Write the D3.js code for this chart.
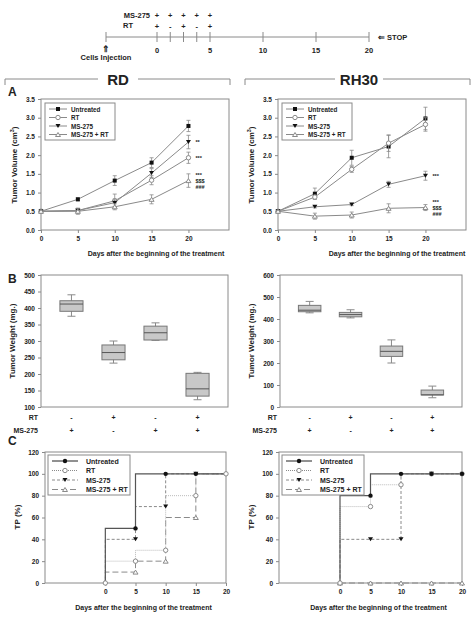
<!DOCTYPE html><html><head><meta charset="utf-8"><script src="https://cdn.jsdelivr.net/npm/d3@7"></script>
<style>body{margin:0;background:#fff}text{font-family:Arial,"Liberation Sans",sans-serif;font-weight:bold}</style></head><body>
<svg id="s" width="474" height="620"></svg>
<script>
const days=[0,5,10,15,20];
const groups=["Untreated","RT","MS-275","MS-275 + RT"];
// Panel A: tumor volume means & errors
const rdVol=[[0.5,0.82,1.32,1.8,2.78],[0.5,0.52,0.78,1.33,1.93],[0.5,0.52,0.73,1.52,2.35],[0.5,0.5,0.62,0.82,1.32]];
const rdErr=[[0.02,0.04,0.13,0.13,0.15],[0.05,0.05,0.18,0.12,0.15],[0.03,0.06,0.1,0.12,0.18],[0.03,0.08,0.08,0.12,0.18]];
const rhVol=[[0.5,0.97,1.93,2.23,2.98],[0.5,0.88,1.62,2.32,2.82],[0.5,0.62,0.68,1.22,1.45],[0.5,0.37,0.4,0.58,0.6]];
const rhErr=[[0.02,0.15,0.2,0.3,0.3],[0.02,0.05,0.08,0.22,0.18],[0.02,0.03,0.03,0.08,0.12],[0.02,0.08,0.08,0.12,0.08]];
const rdSig=[["**",2.35],["***",1.93],["***\n$$$\n###",1.32]];
const rhSig=[["***",1.45],["***\n$$$\n###",0.6]];
// Panel B: box stats [min,q1,median,q3,max]
const rdBox=[[375,390,412,422,440],[233,243,265,288,300],[302,303,325,345,355],[122,133,155,202,205]];
const rhBox=[[428,433,440,462,480],[405,410,420,430,442],[200,230,253,277,305],[42,55,55,77,95]];
const rtRow=["-","+","-","+"], msRow=["+","-","+","+"];
// Panel C: TP (%)
const rdTP=[[0,50,100,100,100],[0,20,30,80,100],[0,40,70,100,100],[0,10,20,60,100]];
const rhTP=[[0,80,100,100,100],[0,70,90,100,100],[0,40,40,100,100],[0,0,0,0,0]];
const timelineTicks=[0,5,10,15,20];
const msPlan=["+","+","+","+","+"], rtPlan=["+","-","+","-","+"], planDays=[0,1.25,2.5,3.75,5];

const svg=d3.select("#s");
const G="#8a8a8a";
function txt(g,x,y,t,o={}){return g.append("text").attr("x",x).attr("y",y).text(t).attr("font-size",o.fs||7).attr("text-anchor",o.a||"start").attr("fill",o.c||"#222");}
// Timeline
const tx=d3.scaleLinear([0,20],[157,369]);
svg.append("line").attr("x1",106).attr("x2",369).attr("y1",37).attr("y2",37).attr("stroke",G);
[-5,...timelineTicks,...planDays.slice(1,4)].forEach(d=>svg.append("line").attr("x1",d<0?106:tx(d)).attr("x2",d<0?106:tx(d)).attr("y1",32).attr("y2",42).attr("stroke",G));
timelineTicks.forEach(d=>txt(svg,tx(d),53,d,{a:"middle",fs:7.5}));
txt(svg,150,18,"MS-275",{a:"end",fs:7.5});txt(svg,123,28,"RT",{fs:7.5});
planDays.forEach((d,i)=>{txt(svg,tx(d),18,msPlan[i],{a:"middle",fs:7.5});txt(svg,tx(d),29,rtPlan[i],{a:"middle",fs:7.5});});
txt(svg,106,60,"Cells Injection",{a:"middle",fs:7.5});txt(svg,106,52,"⇑",{a:"middle",fs:9});
txt(svg,378,40,"⇐ STOP",{fs:7.5});
// Section headers
[[5,230,118,"RD"],[245,470,355,"RH30"]].forEach(([a,b,c,t])=>{
 svg.append("path").attr("d",`M${a},85V79H${c-20}M${c+ (t=="RD"?20:28)},79H${b}V85`).attr("fill","none").attr("stroke",G);
 txt(svg,c+(t=="RD"?0:4),85,t,{a:"middle",fs:15});});
txt(svg,8,96,"A",{fs:12});txt(svg,8,283,"B",{fs:12});txt(svg,8,445,"C",{fs:12});
// Panel A
function panelA(x0,vol,err,sig){
 const x=d3.scaleLinear([0,25.5],[x0+41,x0+229]), y=d3.scaleLinear([0,3.5],[230,99]);
 const g=svg.append("g");
 g.append("rect").attr("x",x(0)).attr("y",99).attr("width",x(25.5)-x(0)).attr("height",131).attr("fill","none").attr("stroke",G);
 g.append("g").attr("transform","translate(0,230)").call(d3.axisBottom(x).tickValues(days).tickSize(3)).call(a=>{a.select(".domain").remove();a.selectAll("line").attr("stroke",G);a.selectAll("text").attr("font-size",6.5).attr("fill","#222");});
 g.append("g").attr("transform",`translate(${x(0)},0)`).call(d3.axisLeft(y).ticks(7).tickFormat(d3.format(".1f")).tickSize(3)).call(a=>{a.select(".domain").remove();a.selectAll("line").attr("stroke",G);a.selectAll("text").attr("font-size",6.5).attr("fill","#222");});
 txt(g,x0+(x0?160:156),256,"Days after the beginning of the treatment",{a:"middle",fs:7});
 const yl=g.append("text").attr("transform",`translate(${x0+17},165) rotate(-90)`).attr("text-anchor","middle").attr("font-size",8).attr("fill","#222");
 yl.append("tspan").text("Tumor Volume (cm");yl.append("tspan").text("3").attr("font-size",5.5).attr("dy",-3);yl.append("tspan").text(")").attr("dy",3);
 const line=d3.line().x((d,i)=>x(days[i])).y(d=>y(d));
 vol.forEach((s,k)=>{
  g.append("path").attr("d",line(s)).attr("fill","none").attr("stroke",G).attr("stroke-width",1);
  s.forEach((v,i)=>{g.append("path").attr("d",`M${x(days[i])},${y(v-err[k][i])}V${y(v+err[k][i])}M${x(days[i])-2},${y(v-err[k][i])}h4M${x(days[i])-2},${y(v+err[k][i])}h4`).attr("stroke",G).attr("stroke-width",0.8);
   marker(g,k,x(days[i]),y(v));});
 });
 sig.forEach(([t,v])=>{const ls=t.split("\n");ls.forEach((l,j)=>txt(g,x(20)+7,y(v)+2+(j-(ls.length-1)/2)*6,l,{fs:5.5}));});
 legend(g,x(0)+4,103,false);
}
function marker(g,k,cx,cy,circ){
 if(k==0&&circ)g.append("circle").attr("cx",cx).attr("cy",cy).attr("r",2.2).attr("fill","#111");
 else if(k==0)g.append("rect").attr("x",cx-2).attr("y",cy-2).attr("width",4).attr("height",4).attr("fill","#111");
 else if(k==1)g.append("circle").attr("cx",cx).attr("cy",cy).attr("r",2.2).attr("fill","#fff").attr("stroke",G);
 else if(k==2)g.append("path").attr("d",`M${cx-2.5},${cy-2}h5l-2.5,4z`).attr("fill","#111");
 else g.append("path").attr("d",`M${cx-2.5},${cy+2}h5l-2.5,-4z`).attr("fill","#fff").attr("stroke",G);
}
function legend(g,lx,ly,dash){
 g.append("rect").attr("x",lx).attr("y",ly).attr("width",dash?82:70).attr("height",dash?40:37).attr("fill","#fff").attr("stroke",G);
 const da=[null,"1,1","3,2","6,3"];
 groups.forEach((n,k)=>{const yy=ly+6+k*(dash?9.5:8.5);
  const l=g.append("line").attr("x1",lx+4).attr("x2",lx+(dash?30:22)).attr("y1",yy).attr("y2",yy).attr("stroke",k==0&&dash?"#222":G);
  if(dash&&da[k])l.attr("stroke-dasharray",da[k]);
  marker(g,k,lx+(dash?17:13),yy,dash);
  txt(g,lx+(dash?38:26),yy+2.5,n,{fs:dash?7:6.3});});
}
panelA(0,rdVol,rdErr,rdSig);panelA(237,rhVol,rhErr,rhSig);
// Panel B
function panelB(x0,x1,dom,ticks,boxes,lab){
 const x=d3.scaleBand([0,1,2,3],[x0,x1]).padding(0.45), y=d3.scaleLinear(dom,[407,275]);
 const g=svg.append("g");
 g.append("rect").attr("x",x0).attr("y",275).attr("width",x1-x0).attr("height",132).attr("fill","none").attr("stroke",G);
 g.append("g").attr("transform",`translate(${x0},0)`).call(d3.axisLeft(y).tickValues(ticks).tickSize(3)).call(a=>{a.select(".domain").remove();a.selectAll("line").attr("stroke",G);a.selectAll("text").attr("font-size",6.5).attr("fill","#222");});
 boxes.forEach((b,i)=>{const cx=x(i)+x.bandwidth()/2,w=x.bandwidth();
  g.append("path").attr("d",`M${cx},${y(b[0])}V${y(b[4])}M${cx-4},${y(b[0])}h8M${cx-4},${y(b[4])}h8`).attr("stroke",G);
  g.append("rect").attr("x",x(i)).attr("width",w).attr("y",y(b[3])).attr("height",y(b[1])-y(b[3])).attr("fill","#c8c8c8").attr("stroke","#777");
  g.append("line").attr("x1",x(i)).attr("x2",x(i)+w).attr("y1",y(b[2])).attr("y2",y(b[2])).attr("stroke","#555");
  txt(g,cx,420,rtRow[i],{a:"middle",fs:7});txt(g,cx,433,msRow[i],{a:"middle",fs:7});});
 txt(g,x0-3,420,"RT",{a:"end",fs:7});txt(g,x0-3,433,"MS-275",{a:"end",fs:7});
 g.append("text").attr("transform",`translate(${x0-26},341) rotate(-90)`).attr("text-anchor","middle").attr("font-size",8).attr("fill","#222").text("Tumor Weight (mg.)");
}
panelB(41,228,[100,500],[100,150,200,250,300,350,400,450,500],rdBox);
panelB(280,462,[0,600],[0,100,200,300,400,500,600],rhBox);
// Panel C
function panelC(x0,x1,tp,hideLastUntreated){
 const x=d3.scaleLinear([-10,20],[x0,x1]), y=d3.scaleLinear([0,120],[583,452]);
 const g=svg.append("g");
 g.append("rect").attr("x",x0).attr("y",452).attr("width",x1-x0).attr("height",131).attr("fill","none").attr("stroke",G);
 g.append("g").attr("transform","translate(0,583)").call(d3.axisBottom(x).tickValues(days).tickSize(3)).call(a=>{a.select(".domain").remove();a.selectAll("line").attr("stroke",G);a.selectAll("text").attr("font-size",6.5).attr("fill","#222");});
 g.append("g").attr("transform",`translate(${x0},0)`).call(d3.axisLeft(y).tickValues([0,20,40,60,80,100,120]).tickSize(3)).call(a=>{a.select(".domain").remove();a.selectAll("line").attr("stroke",G);a.selectAll("text").attr("font-size",6.5).attr("fill","#222");});
 g.append("text").attr("transform",`translate(${x0-25},517) rotate(-90)`).attr("text-anchor","middle").attr("font-size",8).attr("fill","#222").text("TP (%)");
 txt(g,(x0+x1)/2+8,610,"Days after the beginning of the treatment",{a:"middle",fs:7});
 const da=[null,"1,1","3,2","6,3"],cols=["#555","#bbb",G,G];
 const line=d3.line().x((d,i)=>x(days[i])).y(d=>y(d)).curve(d3.curveStepBefore);
 [3,2,1,0].forEach(k=>{const p=g.append("path").attr("d",line(tp[k])).attr("fill","none").attr("stroke",cols[k]).attr("stroke-width",k==0?1.2:1);if(da[k])p.attr("stroke-dasharray",da[k]);});
 [3,2,1,0].forEach(k=>tp[k].forEach((v,i)=>{
  if(k==0&&i==0)return; if(k>=2&&i==0&&tp[k][4]>0)return; if(k>=2&&i==4&&v==100)return;
  if(k==0&&i==4&&hideLastUntreated)return;
  marker(g,k,x(days[i]),y(v),true);}));
 legend(g,x0+3,455,true);
}
panelC(45,226,rdTP,true);panelC(279,462,rhTP,false);
</script></body></html>
